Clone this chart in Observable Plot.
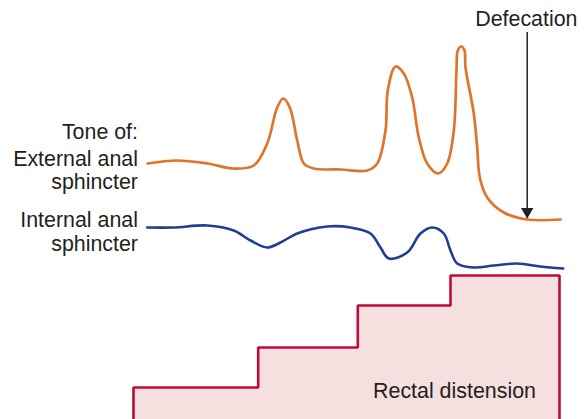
<!DOCTYPE html>
<html>
<head>
<meta charset="utf-8">
<script src="https://cdn.jsdelivr.net/npm/d3@7"></script>
<script src="https://cdn.jsdelivr.net/npm/@observablehq/plot@0.6"></script>
<style>
  html, body { margin: 0; padding: 0; background: #fff; }
  #chart svg { display: block; }
</style>
</head>
<body>
<div id="chart"></div>
<script>
// Time (arbitrary units) and signal level (arbitrary units, up = higher)
const externalTime = [147,176.7,206.7,233.3,253.3,266.7,276.7,282.7,289.3,296.7,303.3,313.3,340,366.7,376.7,385,387.3,395,403.3,411.7,418.3,426.7,437.7,446.7,453.3,456,457.3,460.7,464,465,473.3,476.7,479.3,486.7,503.3,526.7,560];
const externalTone = [256,259,256,251,254,276,312,321,312,279,256,251,250,249,256,289,329,353,346,322,282,256,246,256,289,349,369,373,369,352,306,272,242,222,207,200,200];

const internalTime = [146.7,173.3,206.7,233.3,250,266.7,280,296.7,326.7,350,370,380,388.3,406.7,420,431.7,443.3,450,456.7,473.3,493.3,516.7,540,562.7];
const internalTone = [192,192,194,189,179,172,177,186,193,192,186,172,161,167,186,192,186,169,156,152,154,156,153,151];

const distensionTime = [133,133,257.7,357.3,450,559,559];
const distensionLevel = [0,32,72,114,144,144,0];

const labelText = ["Tone of:", "External anal", "sphincter", "Internal anal", "sphincter"];
const labelTime = [137.5,137.5,137.5,137.5,137.5];
const labelLevel = [287.3,260.7,237.4,199,175.7];

const defecationTime = 526.7;
const defecationFrom = 387;
const defecationTo = 208;

const external = externalTime.map((t,i)=>({t, v: externalTone[i]}));
const internal = internalTime.map((t,i)=>({t, v: internalTone[i]}));
const distension = distensionTime.map((t,i)=>({t, v: distensionLevel[i]}));
const labels = labelText.map((s,i)=>({s, t: labelTime[i], v: labelLevel[i]}));

const font = "Liberation Sans, Arial, Helvetica, sans-serif";
const ink = "#231f20";
const fs = 21.4;

const chart = Plot.plot({
  width: 588,
  height: 419,
  margin: 0,
  style: {background: "#fff", fontFamily: font, overflow: "visible"},
  x: {domain: [0, 588], axis: null},
  y: {domain: [0, 419], axis: null},
  marks: [
    Plot.areaY(distension.slice(1, 6), {x: "t", y: "v", curve: "step-after", fill: "#f5dfdf"}),
    Plot.line(distension, {x: "t", y: "v", curve: "step-after", stroke: "#be0a3d", strokeWidth: 2.6, strokeLinejoin: "miter"}),
    Plot.line(external, {x: "t", y: "v", curve: "catmull-rom", stroke: "#e0742a", strokeWidth: 2.7}),
    Plot.line(internal, {x: "t", y: "v", curve: "catmull-rom", stroke: "#1f3f96", strokeWidth: 2.6}),
    Plot.ruleX([defecationTime], {y1: defecationFrom, y2: defecationTo + 2, stroke: ink, strokeWidth: 1.5}),
    Plot.dot([defecationTime], {x: d => d, y: defecationTo, symbol: "triangle", rotate: 180, r: 4.6, fill: ink, stroke: "none"}),
    Plot.text(labels, {x: "t", y: "v", text: "s", textAnchor: "end", fontSize: fs, fill: ink}),
    Plot.text(["Defecation"], {x: 577, y: 400.7, text: d => d, textAnchor: "end", fontSize: fs, fill: ink}),
    Plot.text(["Rectal distension"], {x: 454, y: 28.7, text: d => d, fontSize: fs, fill: ink})
  ]
});
document.getElementById("chart").appendChild(chart);
</script>
</body>
</html>
